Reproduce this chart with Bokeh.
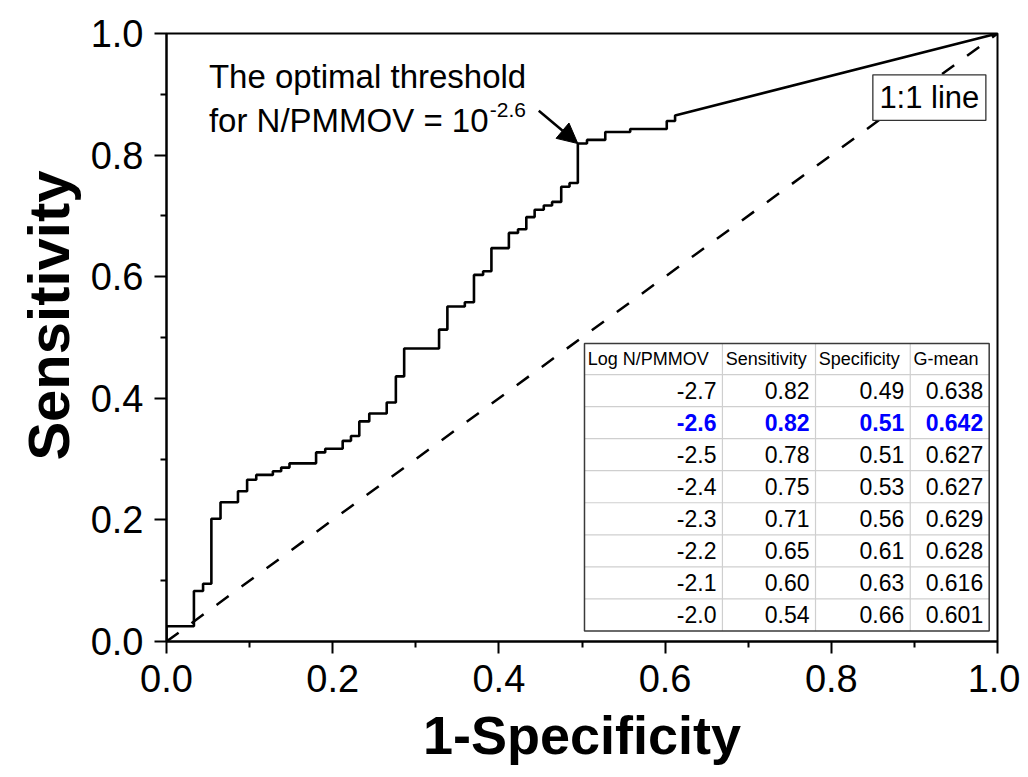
from bokeh.plotting import figure
from bokeh.models import Range1d, FixedTicker, PrintfTickFormatter, Arrow, NormalHead, Title
from bokeh.core.properties import value
from bokeh.embed import file_html
from bokeh.resources import INLINE

# ROC curve corner points (level tpr starts at fpr); last point joined by a straight line
fpr = [0.0, 0.033, 0.044, 0.054, 0.065, 0.086, 0.097, 0.108, 0.128, 0.138, 0.148,
       0.180, 0.191, 0.212, 0.222, 0.232, 0.244, 0.265, 0.276, 0.286, 0.328, 0.338,
       0.359, 0.370, 0.381, 0.391, 0.412, 0.423, 0.433, 0.443, 0.454, 0.464, 0.475,
       0.485, 0.495, 0.506, 0.528, 0.558, 0.602, 0.612, 1.0]
tpr = [0.025, 0.083, 0.095, 0.202, 0.229, 0.247, 0.266, 0.274, 0.280, 0.286, 0.293,
       0.311, 0.317, 0.330, 0.338, 0.362, 0.375, 0.393, 0.436, 0.482, 0.513, 0.551,
       0.558, 0.603, 0.609, 0.647, 0.672, 0.678, 0.698, 0.710, 0.717, 0.723, 0.748,
       0.754, 0.819, 0.825, 0.838, 0.843, 0.856, 0.865, 1.0]

diag_x = [0.0, 1.0]
diag_y = [0.0, 1.0]

opt_fpr = 0.495
opt_tpr = 0.819

tbl_header = ["Log N/PMMOV", "Sensitivity", "Specificity", "G-mean"]
tbl_log = ["-2.7", "-2.6", "-2.5", "-2.4", "-2.3", "-2.2", "-2.1", "-2.0"]
tbl_sens = ["0.82", "0.82", "0.78", "0.75", "0.71", "0.65", "0.60", "0.54"]
tbl_spec = ["0.49", "0.51", "0.51", "0.53", "0.56", "0.61", "0.63", "0.66"]
tbl_gmean = ["0.638", "0.642", "0.627", "0.627", "0.629", "0.628", "0.616", "0.601"]
highlight_row = 1

x_ticks = [0.0, 0.2, 0.4, 0.6, 0.8, 1.0]
x_minor = [0.1, 0.3, 0.5, 0.7, 0.9]

FONT = "Liberation Sans"

p = figure(width=1020, height=769, output_backend="svg", toolbar_location=None,
           x_range=Range1d(0, 1), y_range=Range1d(0, 1),
           min_border_left=166, min_border_right=23, min_border_top=33, min_border_bottom=128)
p.grid.visible = False
p.outline_line_color = "black"
p.outline_line_width = 2
p.background_fill_color = "white"
p.border_fill_color = "white"

for ax in (p.xaxis[0], p.yaxis[0]):
    ax.ticker = FixedTicker(ticks=x_ticks, minor_ticks=x_minor)
    ax.formatter = PrintfTickFormatter(format="%.1f")
    ax.axis_line_width = 2
    ax.major_tick_line_width = 2
    ax.minor_tick_line_width = 2
    ax.major_tick_out = 12
    ax.major_tick_in = 0
    ax.minor_tick_out = 6
    ax.minor_tick_in = 0
    ax.major_label_text_font = FONT
    ax.major_label_text_font_size = "38px"
    ax.major_label_text_color = "black"
    ax.major_label_standoff = 11
    ax.axis_label_text_font = FONT
    ax.axis_label_text_font_style = "bold"
    ax.axis_label_text_color = "black"

p.xaxis.axis_label = "1-Specificity"
p.xaxis.axis_label_text_font_size = "54px"
p.xaxis.axis_label_standoff = 10

p.add_layout(Title(text="Sensitivity", align="right", offset=137, standoff=14,
                   text_font=FONT, text_font_size="58px", text_font_style="bold",
                   text_color="black"), "left")

# 1:1 line
p.line(diag_x, diag_y, line_color="black", line_width=2.5, line_dash="15 16")

# ROC staircase
xs, ys = [0.0], [0.0]
for i, (x, y) in enumerate(zip(fpr, tpr)):
    if i == len(fpr) - 1:
        xs.append(x); ys.append(y)
    else:
        xs.append(x); ys.append(ys[-1])
        xs.append(x); ys.append(y)
p.line(xs, ys, line_color="black", line_width=2.6)

# "1:1 line" box
p.quad(left=[0.850], right=[0.986], top=[0.932], bottom=[0.857],
       fill_color="white", line_color="#333333", line_width=1.3)
p.text(x=[0.918], y=[0.894], text=["1:1 line"], text_font=value(FONT),
       text_font_size=value("31px"), text_align="center", text_baseline="middle",
       text_color="black")

# annotation
p.text(x=[0.051], y=[0.930], text=["The optimal threshold"], text_font=value(FONT),
       text_font_size=value("33px"), text_align="left", text_baseline="middle",
       text_color="black")
p.text(x=[0.051], y=[0.857], text=["for N/PMMOV = 10"], text_font=value(FONT),
       text_font_size=value("33px"), text_align="left", text_baseline="middle",
       text_color="black")
p.text(x=[0.389], y=[0.875], text=["-2.6"], text_font=value(FONT),
       text_font_size=value("21px"), text_align="left", text_baseline="middle",
       text_color="black")
p.add_layout(Arrow(end=NormalHead(size=20, fill_color="black", line_color="black"),
                   x_start=0.448, y_start=0.873, x_end=opt_fpr, y_end=opt_tpr,
                   line_width=2.5, line_color="black"))

# table
col_edges = [0.503, 0.669, 0.781, 0.895, 0.990]
tbl_top = 0.490
head_h = 0.051
row_h = 0.0527
n_rows = len(tbl_log)
tbl_bottom = tbl_top - head_h - n_rows * row_h
row_edges = [tbl_top - head_h - i * row_h for i in range(n_rows + 1)]

p.quad(left=[col_edges[0]], right=[col_edges[-1]], top=[tbl_top], bottom=[tbl_bottom],
       fill_color="white", line_color=None)
p.segment(x0=[col_edges[0]] * (n_rows), y0=row_edges[:-1],
          x1=[col_edges[-1]] * (n_rows), y1=row_edges[:-1],
          line_color="#cfcfcf", line_width=1.2)
p.segment(x0=col_edges[1:-1], y0=[tbl_top] * 3, x1=col_edges[1:-1], y1=[tbl_bottom] * 3,
          line_color="#cfcfcf", line_width=1.2)
p.quad(left=[col_edges[0]], right=[col_edges[-1]], top=[tbl_top], bottom=[tbl_bottom],
       fill_color=None, line_color="#3a3a3a", line_width=1.5)

pad_l = 0.004
pad_r = 0.0072
head_y = tbl_top - head_h / 2
p.text(x=[e + pad_l for e in col_edges[:-1]], y=[head_y] * 4, text=tbl_header,
       text_font=value(FONT), text_font_size=value("18px"), text_align="left",
       text_baseline="middle", text_color="black")

for ci, col in enumerate([tbl_log, tbl_sens, tbl_spec, tbl_gmean]):
    xr = col_edges[ci + 1] - pad_r
    norm_idx = [i for i in range(n_rows) if i != highlight_row]
    p.text(x=[xr] * len(norm_idx), y=[row_edges[i] - row_h / 2 for i in norm_idx],
           text=[col[i] for i in norm_idx], text_font=value(FONT),
           text_font_size=value("23px"), text_align="right", text_baseline="middle",
           text_color="black")
    p.text(x=[xr], y=[row_edges[highlight_row] - row_h / 2], text=[col[highlight_row]],
           text_font=value(FONT), text_font_size=value("23px"), text_font_style="bold",
           text_align="right", text_baseline="middle", text_color="#0000FF")

open("out.html", "w").write(file_html(p, INLINE))
